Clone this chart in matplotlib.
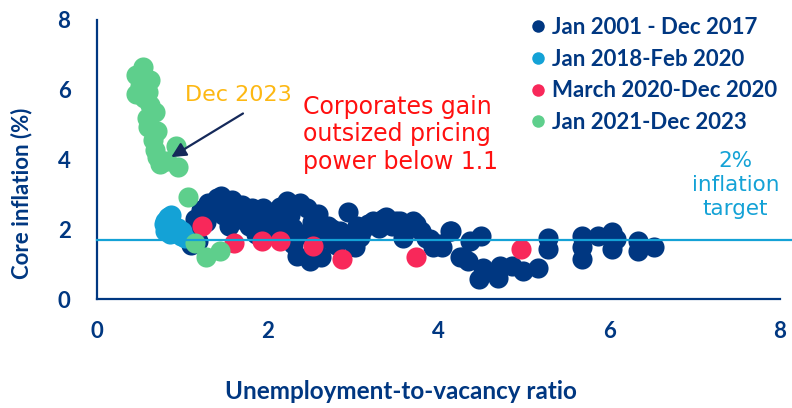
import matplotlib
matplotlib.use("Agg")
import matplotlib.pyplot as plt
from matplotlib.lines import Line2D

# ---------------- data ----------------
navy_x = [1.10, 1.12, 1.15, 1.18, 1.22, 1.28, 1.30, 1.35, 1.40, 1.45, 1.48, 1.52, 1.55, 1.58,
          1.62, 1.66, 1.70, 1.75, 1.78, 1.82, 1.86, 1.90, 1.94, 1.98, 2.02, 2.06, 2.10, 2.14,
          2.18, 2.22, 2.26, 2.30, 2.30, 2.34, 2.38, 2.42, 2.46, 2.49, 2.52, 2.55, 2.59, 2.62,
          2.65, 2.70, 2.75, 2.75, 2.80, 2.85, 2.90, 2.94, 3.02, 3.05, 3.08, 3.12, 3.18, 3.23,
          3.30, 3.35, 3.39, 3.45, 3.50, 3.55, 3.58, 3.65, 3.70, 3.74, 3.80, 3.85, 3.90, 3.93,
          4.02, 4.04, 4.13, 4.15, 4.25, 4.29, 4.35, 4.37, 4.50, 4.52, 4.48, 4.70, 4.72, 4.86,
          4.99, 5.17, 5.28, 5.28, 5.68, 5.68, 5.68, 5.87, 6.03, 6.03, 6.08, 6.34, 6.34, 6.53]
navy_y = [1.55, 1.90, 2.30, 1.65, 2.55, 2.20, 2.75, 2.50, 2.90, 2.95, 2.40, 2.70, 2.10, 2.85,
          2.55, 2.30, 2.70, 2.45, 2.10, 2.62, 1.85, 2.35, 2.60, 2.15, 1.90, 2.50, 2.20, 2.65,
          1.75, 2.80, 2.40, 2.05, 1.58, 1.24, 2.75, 1.85, 2.60, 1.09, 2.20, 1.45, 2.44, 1.20,
          1.90, 2.10, 2.01, 1.67, 1.55, 1.95, 1.75, 2.49, 1.48, 2.10, 1.77, 2.00, 2.15, 2.24,
          2.05, 2.30, 2.34, 2.10, 2.25, 2.24, 1.76, 2.05, 2.24, 2.15, 1.95, 1.75, 1.73, 1.48,
          1.58, 1.48, 1.96, 1.96, 1.20, 1.19, 1.10, 1.67, 1.81, 0.90, 0.58, 0.61, 0.95, 0.95,
          0.81, 0.90, 1.76, 1.44, 1.81, 1.15, 1.48, 1.81, 1.91, 1.44, 1.72, 1.67, 1.38, 1.48]

lblue_x = [0.80, 0.83, 0.86, 0.82, 0.88, 0.80, 0.85, 0.90, 0.93, 0.95, 0.98, 1.00, 1.03, 0.87, 0.84, 0.78]
lblue_y = [2.25, 2.35, 2.30, 2.10, 2.15, 1.95, 1.85, 2.00, 1.90, 2.05, 1.80, 1.95, 1.75, 2.40, 2.05, 2.15]

red_x = [1.23, 1.60, 1.93, 2.14, 2.53, 2.87, 3.74, 4.97]
red_y = [2.10, 1.62, 1.67, 1.67, 1.53, 1.14, 1.19, 1.43]

green_x = [0.54, 0.46, 0.52, 0.62, 0.50, 0.46, 0.60, 0.55, 0.62, 0.68, 0.58, 0.60, 0.70, 0.66,
           0.68, 0.70, 0.74, 0.93, 0.95, 0.82, 1.07, 1.15, 1.28, 1.44]
green_y = [6.66, 6.42, 6.35, 6.27, 6.10, 5.89, 5.94, 5.75, 5.55, 5.36, 5.20, 4.93, 4.83, 4.55,
           4.26, 4.07, 3.88, 4.40, 3.78, 3.95, 2.92, 1.62, 1.19, 1.38]

series_labels = ["Jan 2001 - Dec 2017", "Jan 2018-Feb 2020", "March 2020-Dec 2020", "Jan 2021-Dec 2023"]
target_line = 1.7
x_ticks = [0, 2, 4, 6, 8]
y_ticks = [0, 2, 4, 6, 8]

# ---------------- style ----------------
NAVY = "#003781"
LBLUE = "#14A2D6"
RED = "#F8285A"
GREEN = "#5ECF8C"
GOLD = "#FDB813"

fig = plt.figure(figsize=(7.92, 4.08), dpi=100)
ax = fig.add_axes([97/792, 1-299/408, 683/792, 279/408])

S = 210
ax.scatter(navy_x, navy_y, s=S, color=NAVY, linewidths=0, zorder=2)
ax.scatter(lblue_x, lblue_y, s=S, color=LBLUE, linewidths=0, zorder=3)
ax.scatter(red_x, red_y, s=S, color=RED, linewidths=0, zorder=4)
ax.scatter(green_x, green_y, s=S, color=GREEN, linewidths=0, zorder=5)
ax.axhline(target_line, xmin=0, xmax=1.017, color=LBLUE, lw=1.6, zorder=6, clip_on=False)

ax.set_xlim(0, 8)
ax.set_ylim(0, 8)
ax.set_xticks(x_ticks)
ax.set_yticks(y_ticks)
for side in ["top", "right"]:
    ax.spines[side].set_visible(False)
for side in ["left", "bottom"]:
    ax.spines[side].set_color(NAVY)
    ax.spines[side].set_linewidth(1.6)
ax.tick_params(length=0, colors=NAVY, labelsize=16)
ax.tick_params(axis="x", pad=16)
ax.tick_params(axis="y", pad=19)
for lab in ax.get_xticklabels() + ax.get_yticklabels():
    lab.set_fontfamily("Lato")
    lab.set_fontweight("bold")

ax.set_xlabel("Unemployment-to-vacancy ratio", color=NAVY, fontsize=17.5, fontfamily="Lato", fontweight="bold")
ax.set_ylabel("Core inflation (%)", color=NAVY, fontsize=16, fontfamily="Lato", fontweight="bold")
ax.xaxis.set_label_coords(0.445, -0.29)
ax.yaxis.set_label_coords(-0.094, 0.38)

# annotations
ax.text(1.66, 5.84, "Dec 2023", color=GOLD, fontsize=16, fontfamily="DejaVu Sans",
        ha="center", va="center")
ax.annotate("", xy=(0.87, 4.07), xytext=(1.71, 5.32),
            arrowprops=dict(arrowstyle="-|>", color="#15295A", lw=1.6,
                            mutation_scale=22, shrinkA=0, shrinkB=0), zorder=7)
ax.text(2.41, 4.72, "Corporates gain\noutsized pricing\npower below 1.1", color="#FF1010",
        fontsize=17, fontfamily="DejaVu Sans", ha="left", va="center", linespacing=1.2)
ax.text(7.48, 3.28, "2%\ninflation\ntarget", color=LBLUE, fontsize=15.5,
        fontfamily="DejaVu Sans", ha="center", va="center", linespacing=1.25)

handles = [Line2D([], [], marker="o", ls="", color=c, markersize=9, markeredgewidth=0)
           for c in [NAVY, LBLUE, RED, GREEN]]
leg = fig.legend(handles, series_labels, loc="upper left", bbox_to_anchor=(520/792, 1-6/408),
                 frameon=False, borderpad=0, handlelength=0.6, handletextpad=0.35,
                 labelspacing=0.48, prop={"family": "Lato", "weight": "bold", "size": 16})
for t in leg.get_texts():
    t.set_color(NAVY)

fig.savefig("out.png", dpi=100)
